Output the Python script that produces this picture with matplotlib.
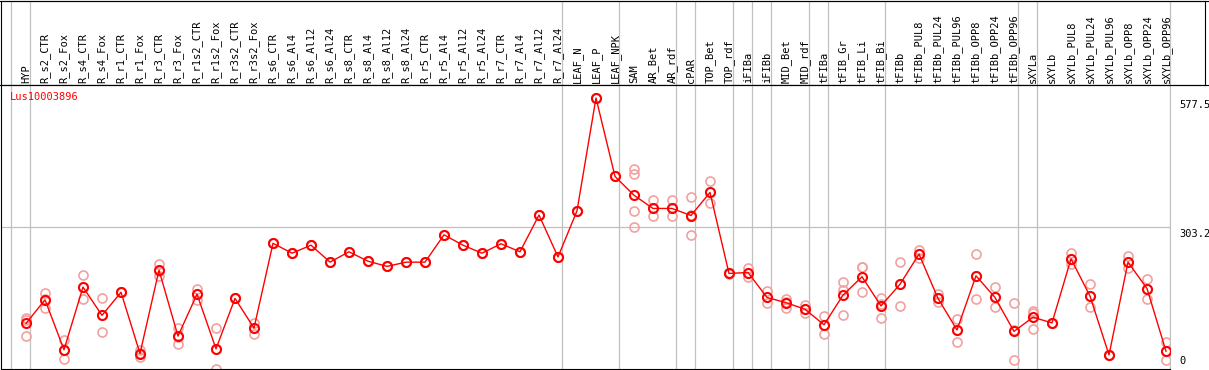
import matplotlib
matplotlib.use("Agg")
import matplotlib.pyplot as plt
from matplotlib.lines import Line2D

# Categorias (colunas) do gráfico
categorias = [
    "HYP", "R_s2_CTR", "R_s2_Fox", "R_s4_CTR", "R_s4_Fox", "R_r1_CTR", "R_r1_Fox",
    "R_r3_CTR", "R_r3_Fox", "R_r1s2_CTR", "R_r1s2_Fox", "R_r3s2_CTR", "R_r3s2_Fox",
    "R_s6_CTR", "R_s6_Al4", "R_s6_Al12", "R_s6_Al24", "R_s8_CTR", "R_s8_Al4",
    "R_s8_Al12", "R_s8_Al24", "R_r5_CTR", "R_r5_Al4", "R_r5_Al12", "R_r5_Al24",
    "R_r7_CTR", "R_r7_Al4", "R_r7_Al12", "R_r7_Al24", "LEAF_N", "LEAF_P", "LEAF_NPK",
    "SAM", "AR_Bet", "AR_rdf", "cPAR", "TOP_Bet", "TOP_rdf", "iFIBa", "iFIBb",
    "MID_Bet", "MID_rdf", "tFIBa", "tFIB_Gr", "tFIB_Li", "tFIB_Bi", "tFIBb",
    "tFIBb_PUL8", "tFIBb_PUL24", "tFIBb_PUL96", "tFIBb_OPP8", "tFIBb_OPP24",
    "tFIBb_OPP96", "sXYLa", "sXYLb", "sXYLb_PUL8", "sXYLb_PUL24", "sXYLb_PUL96",
    "sXYLb_OPP8", "sXYLb_OPP24", "sXYLb_OPP96",
]

# Médias (linha vermelha)
medias = [
    99, 149, 43, 176, 116, 165, 35, 212, 72, 161, 45, 152, 89,
    269, 248, 265, 229, 251, 231, 220, 229,
    229, 287, 265, 248, 268, 251, 329, 240,
    338, 577.5, 411,
    371, 343, 343, 328, 377, 205,
    207, 154, 143, 129, 96,
    159, 198, 136, 182,
    246, 152, 85, 200, 154, 82,
    112, 100, 236, 157, 32, 229, 173, 40,
]

# Réplicas (círculos claros)
replicas = [
    [111, 106, 73], [163, 150, 132], [64, 42, 23], [201, 176, 150], [152, 116, 80],
    [165, 165, 165], [42, 36, 28], [225, 210, 200], [89, 71, 55], [173, 161, 149],
    [89, 44, 2], [152, 152, 152], [100, 90, 77],
    [269, 269, 269], [248, 248, 248], [265, 265, 265], [229, 229, 229],
    [251, 251, 251], [231, 231, 231], [220, 220, 220], [229, 229, 229],
    [229, 229, 229], [287, 287, 287], [265, 265, 265], [248, 248, 248],
    [268, 268, 268], [251, 251, 251], [329, 329, 329], [240, 240, 240],
    [338, 338, 338], [577.5, 577.5, 577.5], [411, 411, 411],
    [427, 416, 337, 303], [360, 343, 328], [360, 343, 327], [368, 330, 286],
    [401, 377, 354], [206, 205, 204],
    [217, 207, 198], [168, 154, 142], [151, 145, 132], [138, 130, 120], [114, 96, 76],
    [186, 170, 116], [219, 218, 165], [153, 140, 111], [229, 182, 136],
    [255, 246, 237], [161, 152, 144], [109, 85, 60], [246, 200, 150],
    [176, 154, 133], [142, 84, 21],
    [126, 122, 87], [100, 100, 100], [248, 236, 224], [182, 157, 133], [32, 32, 32],
    [241, 229, 217], [193, 173, 151], [59, 40, 21],
]

# Último índice de cada grupo (linhas verticais cinza)
fim_grupos = [-1, 0, 28, 31, 34, 35, 37, 38, 39, 41, 42, 45, 52, 53, 60]

rotulos_y = [577.5, 303.2, 0]
titulo = "Lus10003896"

W, H = 1209, 370
X0, DX = 26, 19          # pixel da primeira coluna e espaçamento
V_TOP_PX, V_MAX = 98, 577.5
ZERO_PX = 370
ESCALA = V_MAX / (ZERO_PX - V_TOP_PX)

FONTE = "DejaVu Sans Mono"
FS = 7.5
CINZA = "#c0c0c0"
VERMELHO = "#ff0000"
ROSA = "#f2a0a0"


def col(px):
    return (px - X0) / DX


def val(py):
    return (ZERO_PX - py) * ESCALA


fig = plt.figure(figsize=(W / 100, H / 100), dpi=100)

# Cabeçalho com os nomes das colunas
hax = fig.add_axes([1 / W, 1 - 85 / H, (1205 - 1) / W, (85 - 0.5) / H])
hax.set_xlim(col(1), col(1205))
hax.set_ylim(0, 84.5)
hax.set_xticks([])
hax.set_yticks([])
for s in hax.spines.values():
    s.set_color("black")
    s.set_linewidth(0.8)
for g in fim_grupos:
    hax.axvline(g + 4 / DX, color=CINZA, lw=0.9, zorder=0)
for i, c in enumerate(categorias):
    hax.text(i, 2, c, rotation=90, ha="center", va="bottom",
             fontsize=FS, family=FONTE, color="black")

# Área principal
ax = fig.add_axes([1 / W, 1 / H, (1170 - 1) / W, (369 - 85) / H])
ax.set_xlim(col(1), col(1170))
ax.set_ylim(val(369), val(85))
ax.set_xticks([])
ax.set_yticks([])
for nome, s in ax.spines.items():
    s.set_linewidth(0.8)
    s.set_color(CINZA if nome == "right" else "black")
for g in fim_grupos:
    ax.axvline(g + 4 / DX, color=CINZA, lw=0.9, zorder=0)
ax.axhline(303.2, color=CINZA, lw=0.9, zorder=0)

for i, reps in enumerate(replicas):
    ax.plot([i] * len(reps), reps, "o", mfc="none", mec=ROSA, ms=6.5, mew=1.2, zorder=2)

x = list(range(len(medias)))
ax.plot(x, medias, color=VERMELHO, lw=1, marker="o", mfc="none", mec=VERMELHO,
        ms=6.5, mew=1.5, zorder=3)

# Rótulos do eixo à direita
for v in rotulos_y:
    if v == 0:
        off, va = 4, "bottom"
    else:
        off, va = -2, "top"
    ax.annotate(f"{v:g}", xy=(1, v), xycoords=("axes fraction", "data"),
                xytext=(9, off), textcoords="offset pixels", ha="left", va=va,
                fontsize=FS, family=FONTE, color="black", annotation_clip=False)

fig.text(10 / W, 1 - 97 / H, titulo, ha="left", va="center",
         fontsize=FS, family=FONTE, color=VERMELHO)

# Bordas superiores do cabeçalho
fig.add_artist(Line2D([0, 1], [1 - 0.5 / H, 1 - 0.5 / H], color="black", lw=0.8))
fig.add_artist(Line2D([0, 1], [1 - 85 / H, 1 - 85 / H], color="black", lw=0.8))

fig.savefig("out.png", dpi=100)
plt.close(fig)
